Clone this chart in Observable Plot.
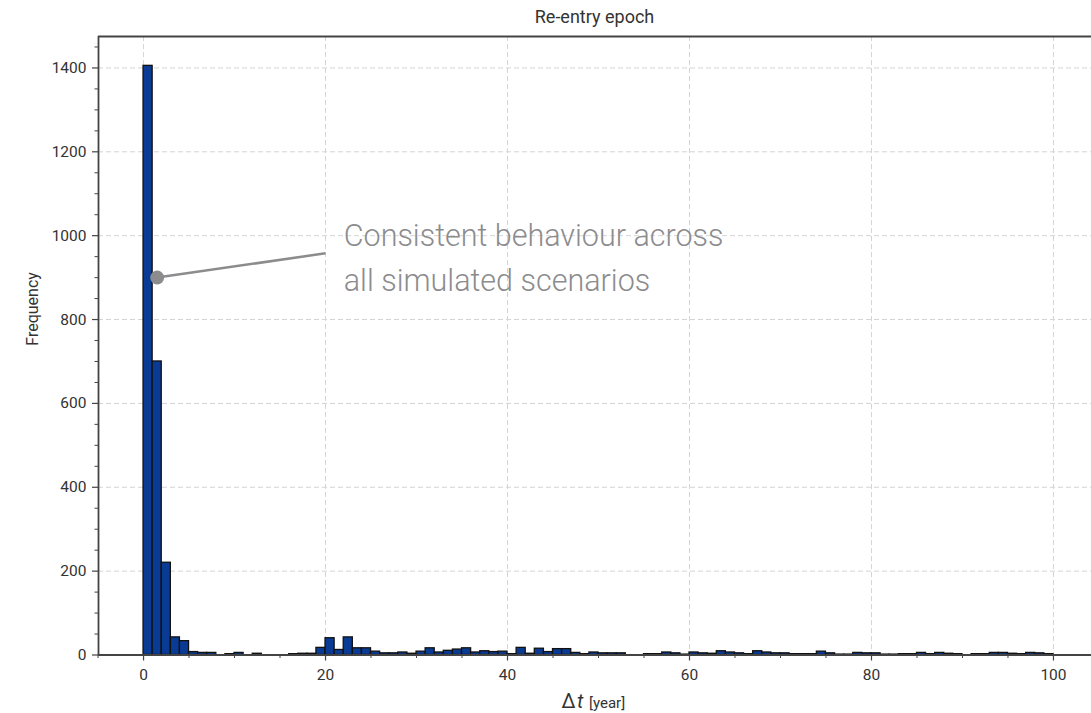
<!DOCTYPE html>
<html>
<head>
<meta charset="utf-8">
<script src="https://cdn.jsdelivr.net/npm/d3@7"></script>
<script src="https://cdn.jsdelivr.net/npm/@observablehq/plot@0.6"></script>
<style>
  html, body { margin: 0; padding: 0; background: #fff; }
  body { width: 1091px; height: 713px; overflow: hidden; font-family: Roboto, "Noto Sans", sans-serif; }
  #title { height: 30px; box-sizing: border-box; padding-top: 7px; margin-left: 98px; width: 993px;
           text-align: center; font-size: 18px; line-height: 20px; color: #333; }
  #chart svg { display: block; }
</style>
</head>
<body>
<div id="title">Re-entry epoch</div>
<div id="chart"></div>
<script>
// Histogram of re-entry epoch differences, one-year bins from 0 to 100
const binWidth = 1;
const counts = [
  1405, 700, 220, 42, 33, 7, 5, 5, 0, 2,
  5, 0, 3, 0, 0, 0, 2, 3, 3, 17,
  40, 12, 42, 16, 16, 8, 4, 4, 6, 3,
  8, 16, 6, 10, 13, 16, 6, 9, 7, 8,
  2, 17, 3, 15, 7, 14, 14, 5, 2, 6,
  4, 4, 4, 0, 0, 2, 2, 6, 4, 1,
  6, 4, 3, 9, 6, 4, 2, 9, 6, 4,
  4, 2, 2, 2, 8, 4, 1, 1, 5, 4,
  4, 1, 1, 2, 2, 5, 2, 5, 3, 2,
  0, 2, 2, 5, 5, 3, 2, 5, 4, 2
];

// Axis ticks
const xMajor = [0, 20, 40, 60, 80, 100];
const xMinor = d3.range(-5, 105, 5).filter(v => v % 20 !== 0);
const yMajor = [0, 200, 400, 600, 800, 1000, 1200, 1400];
const yMinor = d3.range(50, 1475, 50).filter(v => v % 200 !== 0);

// Scale extents
const xDomain = [-4.95, 104.18];
const yDomain = [0, 1475];

// Annotation
const noteText = "Consistent behaviour across\nall simulated scenarios";
const notePoint = {x: 1.5, y: 900};
const noteElbow = {x: 20, y: 958};
const noteAnchor = {x: 22, y: 1054};

const bins = counts.map((c, i) => ({x1: i * binWidth, x2: (i + 1) * binWidth, count: c}));

const spine = "#444";
const noteColor = "#8c8c8e";

const chart = Plot.plot({
  width: 1091,
  height: 683,
  marginLeft: 98,
  marginRight: 0,
  marginTop: 6,
  marginBottom: 58.5,
  style: {fontFamily: "Roboto, 'Noto Sans', sans-serif", background: "#fff", overflow: "visible"},
  x: {domain: xDomain},
  y: {domain: yDomain},
  marks: [
    Plot.gridX(xMajor, {stroke: "#d4d4d4", strokeOpacity: 1, strokeDasharray: "5,3"}),
    Plot.gridY(yMajor, {stroke: "#d4d4d4", strokeOpacity: 1, strokeDasharray: "5,3"}),
    Plot.rectY(bins.filter(d => d.count > 0), {
      x1: "x1", x2: "x2", y: "count",
      fill: "#0a3b94", stroke: "#111", strokeWidth: 1.3, inset: 0
    }),
    // spines (left, top, bottom)
    Plot.ruleX([xDomain[0]], {stroke: spine, strokeWidth: 1.8}),
    Plot.ruleY([yDomain[1]], {stroke: spine, strokeWidth: 1.8}),
    Plot.ruleY([0], {stroke: spine, strokeWidth: 1.8}),
    // ticks
    Plot.axisX(xMajor, {tickSize: 6, tickPadding: 8, stroke: spine, strokeWidth: 1.2, fill: "#333", fontSize: 15.5, label: null, tickFormat: d3.format("d")}),
    Plot.axisX(xMinor, {tickSize: 3.5, stroke: spine, strokeWidth: 1, tickFormat: () => "", label: null}),
    Plot.axisY(yMajor, {tickSize: 6, tickPadding: 6, stroke: spine, strokeWidth: 1.2, fill: "#333", fontSize: 15.5, label: null, tickFormat: d3.format("d")}),
    Plot.axisY(yMinor, {tickSize: 3.5, stroke: spine, strokeWidth: 1, tickFormat: () => "", label: null}),
    // axis titles
    Plot.text(["Frequency"], {frameAnchor: "left", dx: -66, rotate: -90, fontSize: 16, fill: "#333"}),
    Plot.text(["Δ"], {frameAnchor: "bottom", dx: -19.5, dy: 52.5, lineAnchor: "bottom", textAnchor: "end", fontSize: 20, fill: "#333"}),
    Plot.text(["t"], {frameAnchor: "bottom", dx: -18, dy: 52.5, lineAnchor: "bottom", textAnchor: "start", fontSize: 20, fontStyle: "italic", fill: "#333"}),
    Plot.text(["[year]"], {frameAnchor: "bottom", dx: -6, dy: 52.5, lineAnchor: "bottom", textAnchor: "start", fontSize: 15, fill: "#333"}),
    // annotation
    Plot.link([{x1: notePoint.x, y1: notePoint.y, x2: noteElbow.x, y2: noteElbow.y}], {
      x1: "x1", y1: "y1", x2: "x2", y2: "y2", stroke: noteColor, strokeWidth: 2.5
    }),
    Plot.dot([notePoint], {x: "x", y: "y", r: 7, fill: noteColor, stroke: "none"}),
    Plot.text([noteAnchor], {
      x: "x", y: "y", text: () => noteText, textAnchor: "start", lineAnchor: "top",
      lineHeight: 1.5, fontSize: 30.5, fontWeight: 300, fill: noteColor
    })
  ]
});

document.getElementById("chart").append(chart);
</script>
</body>
</html>
